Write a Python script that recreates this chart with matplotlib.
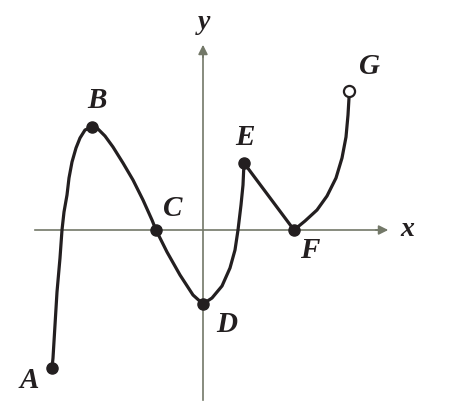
import matplotlib
matplotlib.use("Agg")
import matplotlib.pyplot as plt

# curve points (units: 1 = 20 px, origin at axis crossing)
ac_x = [-7.55, -7.5, -7.4, -7.3, -7.15, -7.05, -6.95, -6.8, -6.7, -6.55, -6.35, -6.15, -5.9,
        -5.55, -5.3, -5.15, -4.9, -4.5, -4.0, -3.5, -3.0, -2.55, -2.35]
ac_y = [-6.9, -6.4, -4.75, -3.1, -1.4, 0.0, 0.9, 1.75, 2.6, 3.4, 4.1, 4.6, 5.0,
        5.15, 5.1, 4.95, 4.7, 4.15, 3.35, 2.5, 1.5, 0.5, 0.0]
cd_x = [-2.35, -1.8, -1.15, -0.5, 0.0]
cd_y = [0.0, -1.1, -2.25, -3.25, -3.7]
de_x = [0.0, 0.45, 0.95, 1.35, 1.6, 1.75, 1.9, 2.0, 2.05]
de_y = [-3.7, -3.4, -2.8, -1.9, -1.0, 0.0, 1.25, 2.25, 3.35]
ef_x = [2.05, 4.55]
ef_y = [3.35, 0.0]
fg_x = [4.55, 5.1, 5.7, 6.2, 6.65, 6.95, 7.15, 7.25, 7.3, 7.3]
fg_y = [0.0, 0.45, 1.0, 1.7, 2.6, 3.6, 4.65, 5.75, 6.6, 6.95]

# labelled points
names = ["A", "B", "C", "D", "E", "F"]
pt_x = [-7.55, -5.55, -2.35, 0.0, 2.05, 4.55]
pt_y = [-6.9, 5.15, 0.0, -3.7, 3.35, 0.0]
open_x, open_y = 7.3, 6.95

label_x = [-8.7, -5.3, -1.5, 1.2, 2.1, 5.35, 8.3]
label_y = [-7.55, 6.45, 1.05, -4.75, 4.6, -1.0, 8.15]

axis_col = "#737868"
ink = "#231f20"

fig = plt.figure(figsize=(4.5, 4.08), dpi=100)
ax = fig.add_axes([0, 0, 1, 1])
ax.set_xlim(-10.15, 12.35)
ax.set_ylim(-8.9, 11.5)
ax.axis("off")

# axes with arrows
ax.plot([-8.4, 9.0], [0, 0], color=axis_col, lw=1.2, zorder=1)
ax.plot([0, 0], [-8.5, 9.0], color=axis_col, lw=1.2, zorder=1)
ax.annotate("", xy=(9.4, 0), xytext=(8.5, 0),
            arrowprops=dict(arrowstyle="-|>", color=axis_col, lw=1.2, mutation_scale=14))
ax.annotate("", xy=(0, 9.4), xytext=(0, 8.5),
            arrowprops=dict(arrowstyle="-|>", color=axis_col, lw=1.2, mutation_scale=14))

for xs, ys in [(ac_x, ac_y), (cd_x, cd_y), (de_x, de_y), (ef_x, ef_y), (fg_x, fg_y)]:
    ax.plot(xs, ys, color=ink, lw=2.3, solid_capstyle="round", solid_joinstyle="round", zorder=2)

ax.plot(pt_x, pt_y, "o", color=ink, ms=8, zorder=3)
ax.plot(open_x, open_y, "o", mfc="white", mec=ink, mew=1.6, ms=8, zorder=3)

font = dict(family="Liberation Serif", style="italic", weight="bold", color=ink)
for name, lx, ly in zip(names + ["G"], label_x, label_y):
    ax.text(lx, ly, name, ha="center", va="center", fontsize=21, **font)
ax.text(10.2, 0, "x", ha="center", va="center", fontsize=20, **font)
ax.text(0.05, 10.35, "y", ha="center", va="center", fontsize=20, **font)

fig.savefig("out.png", dpi=100)
